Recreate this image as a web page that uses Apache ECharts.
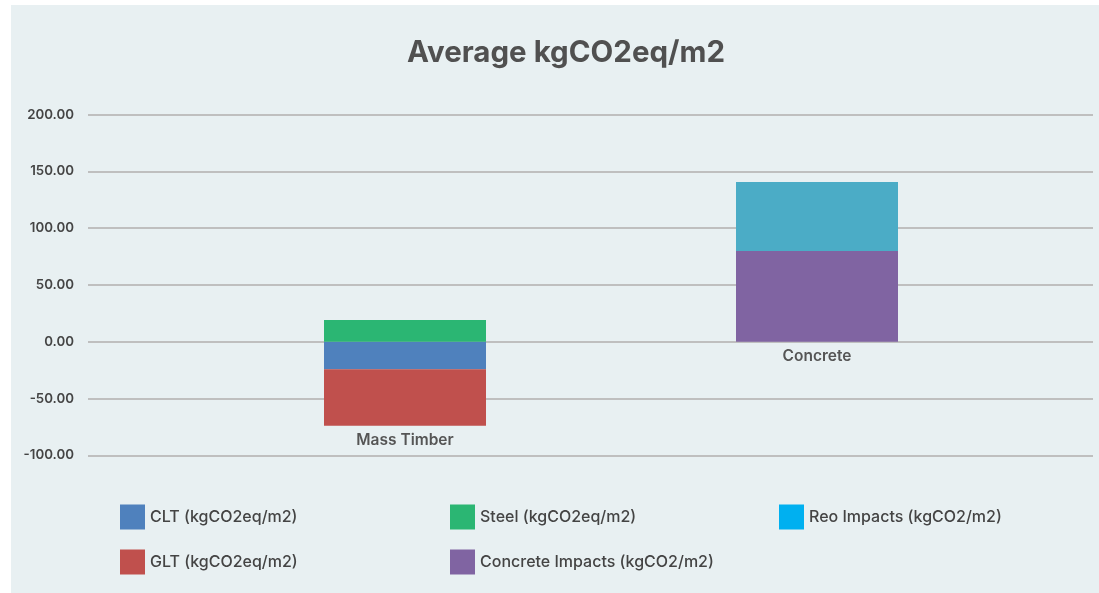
<!DOCTYPE html>
<html>
<head>
<meta charset="utf-8">
<script src="https://cdn.jsdelivr.net/npm/echarts@6/dist/echarts.min.js"></script>
<style>
html,body{margin:0;padding:0;background:#ffffff;}
#chart{width:1099px;height:593px;}
</style>
</head>
<body>
<div id="chart"></div>
<script>
const categories = ['Mass Timber', 'Concrete'];
const cltValues = [-24.3, '-'];
const gltValues = [-49.6, '-'];
const steelValues = [19.1, '-'];
const concreteValues = ['-', 79.8];
const reoValues = ['-', 60.8];
const yTicks = { min: -100, max: 200, interval: 50 };
const legendNames = ['CLT (kgCO2eq/m2)', 'Steel (kgCO2eq/m2)', 'Reo Impacts (kgCO2/m2)',
                     'GLT (kgCO2eq/m2)', 'Concrete Impacts (kgCO2/m2)'];

const FONT = 'Inter';
const chart = echarts.init(document.getElementById('chart'), null, {renderer: 'canvas'});

const labelStyle = {
  show: true, position: 'bottom', distance: 7, formatter: '{b}',
  color: '#555555', fontFamily: FONT, fontWeight: 600, fontSize: 15.5
};

function barSeries(name, data, color, barColor, withLabel) {
  const s = {
    name: name, type: 'bar', stack: 'total', xAxisIndex: 1, yAxisIndex: 1,
    barWidth: 162, data: data,
    itemStyle: { color: color },
    label: withLabel ? labelStyle : { show: false },
    emphasis: { disabled: true }
  };
  if (barColor) {
    s.data = data.map(v => (v === '-' ? v : { value: v, itemStyle: { color: barColor } }));
  }
  return s;
}

const legendCols = [120, 450, 779];
const legendRows = [504.5, 549.5];
const legends = legendNames.map((name, i) => ({
  left: legendCols[i % 3], top: legendRows[Math.floor(i / 3)],
  padding: 0, data: [name],
  itemWidth: 25, itemHeight: 25, icon: 'rect', selectedMode: false,
  textStyle: { color: '#444444', fontFamily: FONT, fontSize: 16, fontWeight: 500 }
}));

chart.setOption({
  animation: false,
  backgroundColor: '#ffffff',
  graphic: [{
    type: 'rect', left: 11, top: 5, z: -10,
    shape: { width: 1088, height: 588 },
    style: { fill: '#E8F0F2' }
  }],
  title: {
    text: 'Average kgCO2eq/m2',
    left: 561, top: 33, textAlign: 'center',
    textStyle: { color: '#505050', fontFamily: FONT, fontWeight: 700, fontSize: 29.5 }
  },
  legend: legends,
  grid: [
    { left: 88, right: 6, top: 114.5, bottom: 593 - 455.3, containLabel: false },
    { left: 199, right: 76, top: 114.5, bottom: 593 - 455.3, containLabel: false }
  ],
  xAxis: [
    { type: 'category', gridIndex: 0, data: categories, show: false },
    { type: 'category', gridIndex: 1, data: categories, show: false, boundaryGap: true }
  ],
  yAxis: [
    {
      type: 'value', gridIndex: 0, min: yTicks.min, max: yTicks.max, interval: yTicks.interval,
      axisLine: { show: false }, axisTick: { show: false },
      axisLabel: {
        margin: 14, color: '#444444', fontFamily: FONT, fontSize: 13.3, fontWeight: 600,
        formatter: v => v.toFixed(2)
      },
      splitLine: { lineStyle: { color: '#BFBFBF', width: 2 } }
    },
    {
      type: 'value', gridIndex: 1, min: yTicks.min, max: yTicks.max, interval: yTicks.interval,
      show: false, splitLine: { show: false }
    }
  ],
  series: [
    barSeries('CLT (kgCO2eq/m2)', cltValues, '#4F81BD', null, false),
    barSeries('GLT (kgCO2eq/m2)', gltValues, '#C0504D', null, true),
    barSeries('Steel (kgCO2eq/m2)', steelValues, '#2BB673', null, false),
    barSeries('Concrete Impacts (kgCO2/m2)', concreteValues, '#8064A2', null, true),
    barSeries('Reo Impacts (kgCO2/m2)', reoValues, '#00B0F0', '#4BACC6', false)
  ]
});
</script>
</body>
</html>
